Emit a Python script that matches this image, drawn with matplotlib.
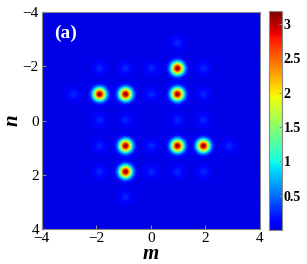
import numpy as np
import matplotlib.pyplot as plt
from matplotlib.colors import ListedColormap

# strong peaks (m, n, height)
peak_m = [-1.9, -0.95, 0.95, 0.95, -0.95, 0.95, 1.9, -0.95]
peak_n = [-0.95, -0.95, -1.9, -0.95, 0.95, 0.95, 0.95, 1.9]
peak_h = [3.19, 3.19, 3.19, 3.19, 3.19, 3.19, 3.19, 3.19]

# weak side peaks
weak_m = [0.95, -1.9, -0.95, 0.0, 1.9, -2.84, 0.0, 1.9, -1.9, -0.95,
          0.95, 1.9, -1.9, 0.0, 2.84, -1.9, 0.0, 0.95, 1.9, -0.95]
weak_n = [-2.84, -1.9, -1.9, -1.9, -1.9, -0.95, -0.95, -0.95, 0.0, 0.0,
          0.0, 0.0, 0.95, 0.95, 0.95, 1.9, 1.9, 1.9, 1.9, 2.84]
weak_h = 0.26

width = 0.23

x = np.linspace(-4, 4, 500)
X, Y = np.meshgrid(x, x)
Z = np.zeros_like(X)
for m, n, h in zip(peak_m, peak_n, peak_h):
    Z += h * np.exp(-((X - m) ** 2 + (Y - n) ** 2) / width ** 2)
for m, n in zip(weak_m, weak_n):
    Z += weak_h * np.exp(-((X - m) ** 2 + (Y - n) ** 2) / width ** 2)

jet = plt.get_cmap('jet')
cmap = ListedColormap(jet(np.linspace(0.09, 1.0, 256)))

plt.rcParams['font.family'] = 'Liberation Serif'

fig = plt.figure(figsize=(3.07, 2.64), dpi=100)
ax = fig.add_axes([41.7 / 307, 1 - 229.3 / 264, 218.3 / 307, 217.6 / 264])
im = ax.imshow(Z, cmap=cmap, vmin=0, vmax=3.19, extent=[-4, 4, 4, -4],
               interpolation='bilinear', aspect='auto')
ax.set_xlim(-4, 4)
ax.set_ylim(4, -4)
ax.set_xticks([-4, -2, 0, 2, 4])
ax.set_yticks([-4, -2, 0, 2, 4])
ax.set_xticklabels(['\u22124', '\u22122', '0', '2', '4'])
ax.set_yticklabels(['\u22124', '\u22122', '0', '2', '4'])
ax.tick_params(direction='in', length=3, labelsize=11, colors='#888888',
               labelcolor='black', pad=2)
for s in ax.spines.values():
    s.set_color('#888888')
ax.set_xlabel('m', fontsize=15, fontweight='bold', style='italic', labelpad=-1)
ax.set_ylabel('n', fontsize=15, fontweight='bold', style='italic', labelpad=0)
ax.text(-3.55, -3.05, '(a)', color='white', fontsize=14, fontweight='bold')

cax = fig.add_axes([269 / 307, 1 - 230 / 264, 13.3 / 307, 219.3 / 264])
cb = fig.colorbar(im, cax=cax, ticks=[0.5, 1, 1.5, 2, 2.5, 3])
cb.ax.set_yticklabels(['0.5', '1', '1.5', '2', '2.5', '3'])
cb.ax.tick_params(labelsize=10, length=2, direction='in', pad=1, colors='#888888',
                  labelcolor='black')
for t in cb.ax.get_yticklabels():
    t.set_fontweight('bold')
cb.outline.set_edgecolor('#888888')

fig.savefig('out.png', dpi=100)
